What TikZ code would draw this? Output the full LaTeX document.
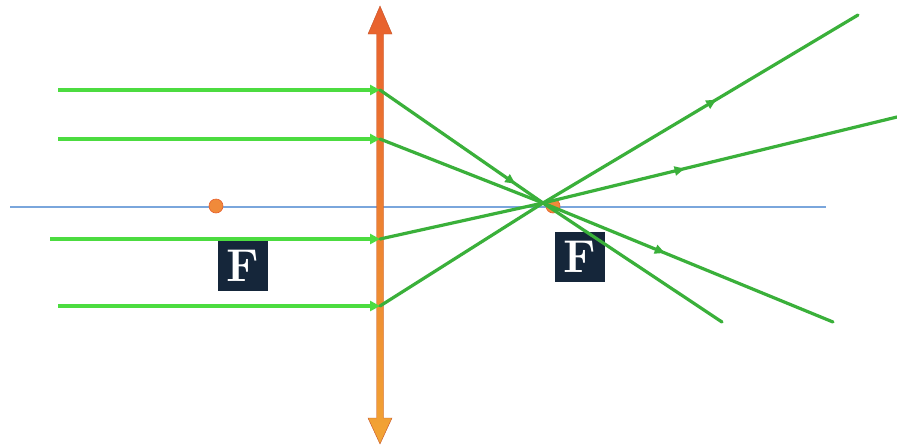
\documentclass[tikz,border=0pt]{standalone}
\usetikzlibrary{arrows.meta,decorations.markings}
\definecolor{rayin}{HTML}{4CDC40}
\definecolor{rayout}{HTML}{3AB03A}
\definecolor{axisblue}{HTML}{7AA6DC}
\definecolor{lenstop}{HTML}{E8602E}
\definecolor{lensbot}{HTML}{F2A434}
\definecolor{dotorange}{HTML}{F08A3A}
\definecolor{boxnavy}{HTML}{15263A}
\tikzset{
  incoming/.style={rayin, line width=3.6pt, -{Triangle[length=10pt,width=10pt]}},
  outgoing/.style={rayout, line width=3.2pt, line cap=round},
  midarrow/.style={postaction={decorate},decoration={markings,
     mark=at position #1 with {\arrow{Triangle[length=10pt,width=9pt]}}}},
  focusdot/.style={circle, fill=dotorange, draw=lenstop, line width=0.6pt, minimum size=14pt, inner sep=0pt},
  fbox/.style={fill=boxnavy, text=white, minimum width=50pt, minimum height=50pt, inner sep=0pt,
     font=\fontsize{46}{46}\selectfont\bfseries}
}
\begin{document}
\begin{tikzpicture}[x=1pt,y=-1pt]
\useasboundingbox (0,0) rectangle (897,445);
\fill[white] (0,0) rectangle (897,445);
% optical axis
\coordinate (axL) at (10,207);
\coordinate (axR) at (826,207);
\draw[axisblue, line width=1.4pt] (axL) -- (axR);
% lens
\shade[top color=lenstop, bottom color=lensbot, draw=lenstop!85!black, line width=0.4pt]
  (380,6) -- (392,34) -- (383.5,34) -- (383.5,418) -- (392,418) -- (380,444)
  -- (368,418) -- (376.5,418) -- (376.5,34) -- (368,34) -- cycle;
% focal points
\node[focusdot] (F1) at (216,206) {};
\node[focusdot] (F2) at (553,206) {};
% focus labels
\node[fbox] (L1) at (243,266) {F};
\node[fbox] (L2) at (580,257) {F};
% coordinates
\coordinate (s1) at (58,90);   \coordinate (h1) at (380,90);
\coordinate (s2) at (58,139);  \coordinate (h2) at (380,139);
\coordinate (s3) at (50,239);  \coordinate (h3) at (380,239);
\coordinate (s4) at (58,306);  \coordinate (h4) at (380,306);
\coordinate (C) at (543,203);
\coordinate (e1) at (722,322);
\coordinate (e2) at (833,322);
\coordinate (e3) at (897,117);
\coordinate (e4) at (858,15);
% incoming rays
\draw[incoming] (s1) -- (h1);
\draw[incoming] (s2) -- (h2);
\draw[incoming] (s3) -- (h3);
\draw[incoming] (s4) -- (h4);
% refracted rays
\draw[outgoing, midarrow=0.83] (h1) -- (C);
\draw[outgoing] (C) -- (e1);
\draw[outgoing] (h2) -- (C);
\draw[outgoing, midarrow=0.42] (C) -- (e2);
\draw[outgoing] (h3) -- (C);
\draw[outgoing, midarrow=0.4] (C) -- (e3);
\draw[outgoing] (h4) -- (C);
\draw[outgoing, midarrow=0.55] (C) -- (e4);
\end{tikzpicture}
\end{document}
